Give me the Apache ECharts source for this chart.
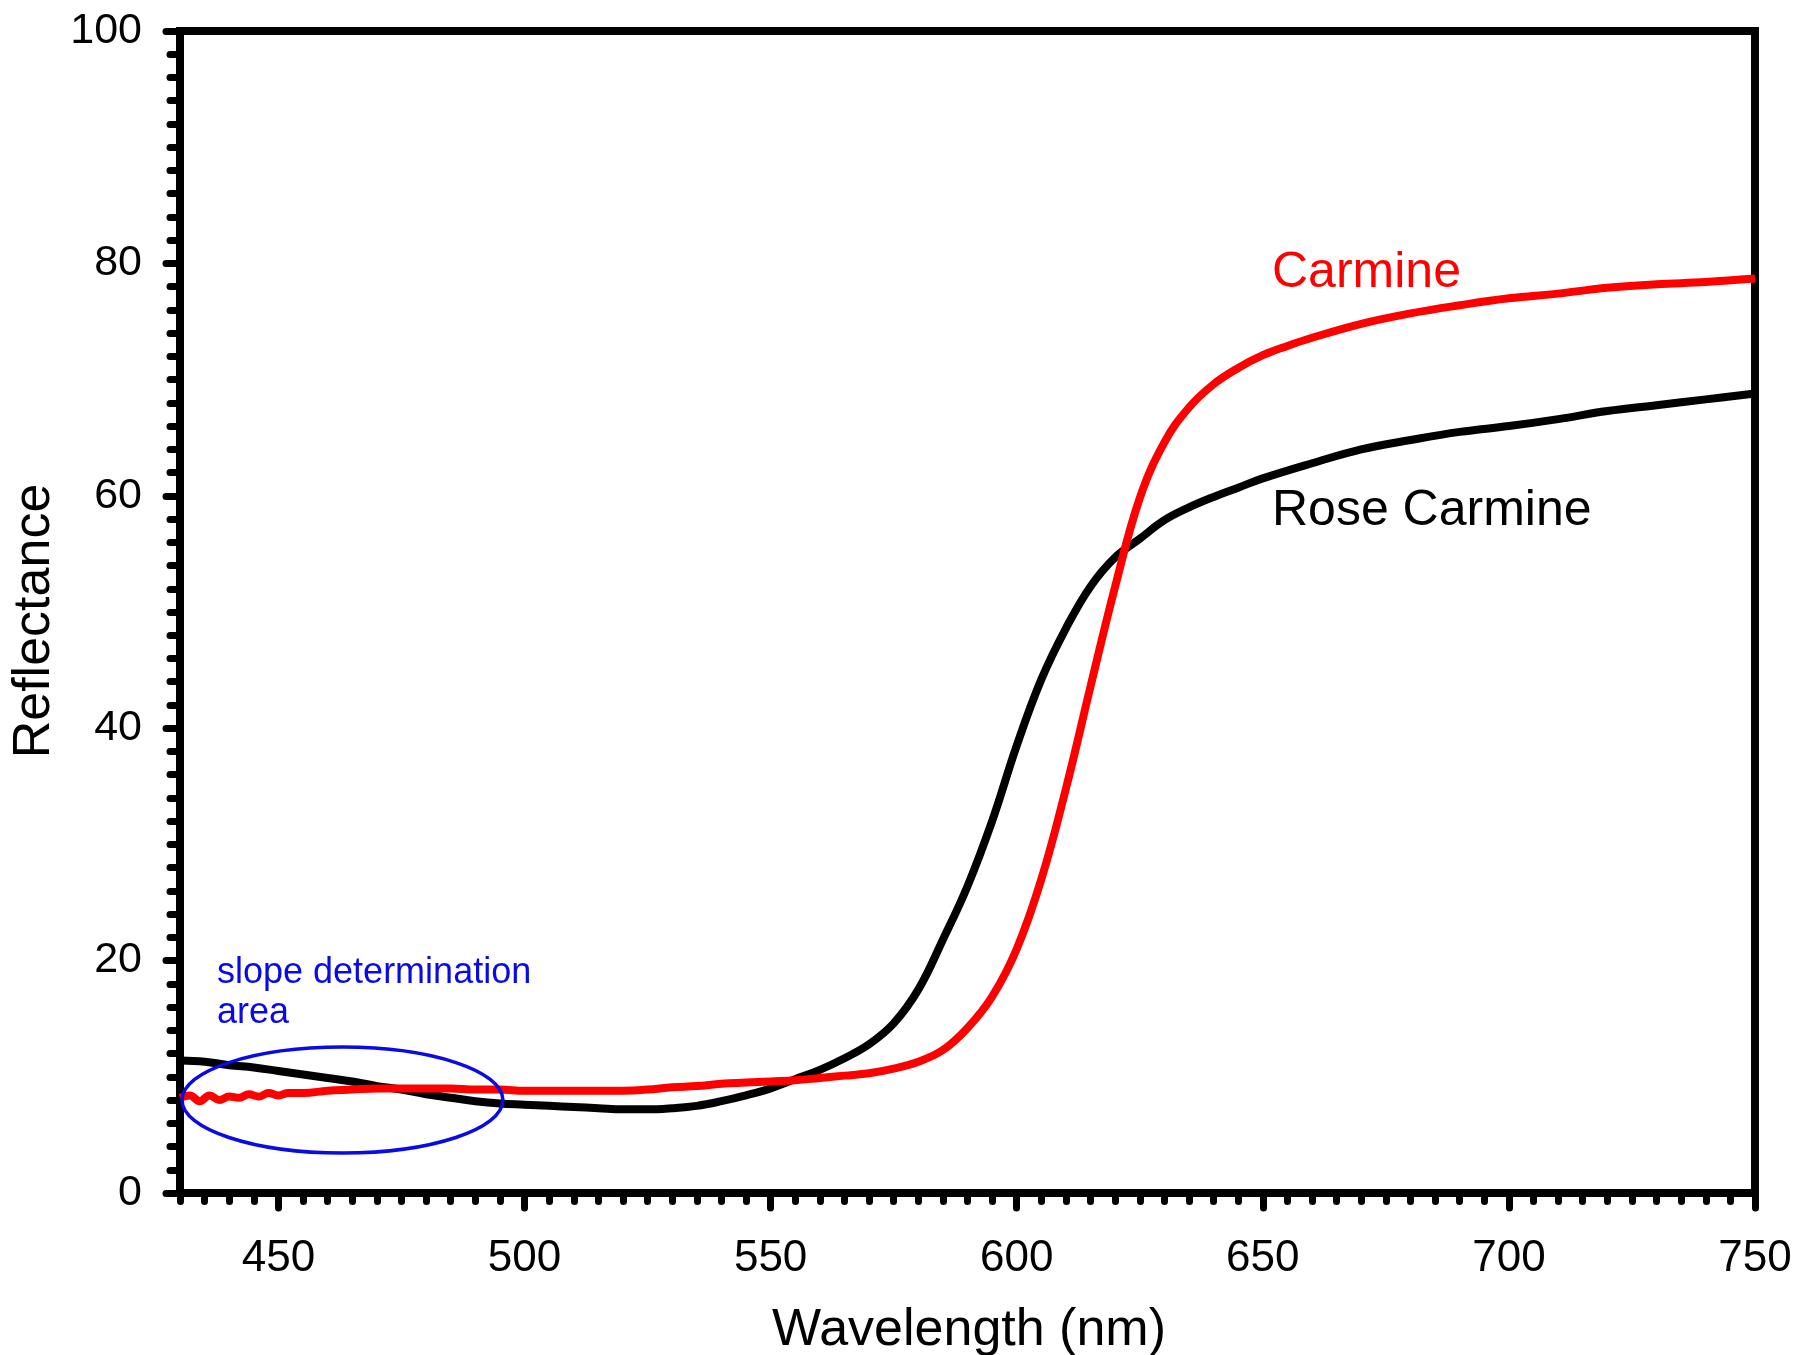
<!DOCTYPE html>
<html>
<head>
<meta charset="utf-8">
<title>Reflectance spectra</title>
<script src="https://cdn.jsdelivr.net/npm/echarts@6/dist/echarts.min.js"></script>
<style>
  html, body { margin: 0; padding: 0; background: #fff; }
  #chart { width: 1796px; height: 1355px; }
</style>
</head>
<body>
<div id="chart"></div>
<script>
// Rose Carmine reflectance spectrum (wavelength in nm, reflectance in %)
const wavelengthRose = [430,435,440,445,450,455,460,465,470,475,480,485,490,495,500,505,510,515,520,525,530,535,540,545,550,555,560,565,570,575,580,585,590,595,600,605,610,615,620,625,630,635,640,645,650,660,670,680,690,700,710,720,730,740,750];
const reflectanceRose = [11.4,11.3,11.0,10.8,10.5,10.2,9.9,9.6,9.2,8.9,8.5,8.2,7.9,7.7,7.6,7.5,7.4,7.3,7.2,7.2,7.3,7.5,7.9,8.4,9.0,9.8,10.6,11.6,12.8,14.6,17.5,21.8,26.4,32.0,38.5,44.2,48.6,52.2,54.7,56.3,57.9,59.0,59.9,60.7,61.5,62.8,64.0,64.8,65.5,66.0,66.6,67.3,67.8,68.3,68.8];

// Carmine reflectance spectrum
const wavelengthCarmine = [430,432,434,436,438,440,442,444,446,448,450,452,455,460,465,470,475,480,485,490,495,500,505,510,515,520,525,530,535,540,545,550,555,560,565,570,575,580,585,590,595,600,605,610,615,620,625,630,635,640,645,650,655,660,670,680,690,700,710,720,730,740,750];
const reflectanceCarmine = [8.2,8.4,7.9,8.4,8.0,8.3,8.2,8.5,8.3,8.6,8.4,8.6,8.6,8.8,8.9,9.0,9.0,9.0,9.0,8.9,8.9,8.8,8.8,8.8,8.8,8.8,8.9,9.1,9.2,9.4,9.5,9.6,9.7,9.9,10.1,10.3,10.7,11.3,12.3,14.2,16.9,21.0,27.0,34.8,43.6,52.2,59.8,64.6,67.6,69.6,71.0,72.1,72.9,73.6,74.8,75.7,76.4,77.0,77.4,77.9,78.2,78.4,78.7];

// Axis tick labels
const xMajorTicks = [450, 500, 550, 600, 650, 700, 750];
const yTickInterval = 20;

// Slope determination region: centre (nm, %), half-width (nm), half-height (%)
const slopeRegion = [463, 8.0, 32.6, 4.56];

const FONT = '"Liberation Sans", Arial, Helvetica, sans-serif';

const chart = echarts.init(document.getElementById('chart'), null, { renderer: 'canvas' });

const pairs = (xs, ys) => xs.map((x, i) => [x, ys[i]]);

const tickStyle = { color: '#000', width: 7, cap: 'round' };

chart.setOption({
  backgroundColor: '#fff',
  animation: false,
  grid: {
    left: 180, right: 41, top: 31, bottom: 162,
    show: true, borderColor: '#000', borderWidth: 8, backgroundColor: 'transparent'
  },
  xAxis: [
    {
      type: 'value', min: 430, max: 750, position: 'bottom',
      axisLine: { show: false },
      splitLine: { show: false },
      axisTick: { show: true, inside: false, length: 15, customValues: xMajorTicks, lineStyle: tickStyle },
      axisLabel: {
        show: true, customValues: xMajorTicks, margin: 44,
        fontSize: 44, color: '#000', fontFamily: FONT
      }
    },
    {
      type: 'value', min: 430, max: 750, interval: 5, position: 'bottom', gridIndex: 0,
      axisLine: { show: false },
      splitLine: { show: false },
      axisTick: { show: true, inside: false, length: 8.5, lineStyle: tickStyle },
      axisLabel: { show: false }
    }
  ],
  yAxis: {
    type: 'value', min: 0, max: 100, interval: yTickInterval,
    axisLine: { show: false },
    splitLine: { show: false },
    axisTick: { show: true, inside: false, length: 14, lineStyle: tickStyle },
    minorTick: { show: true, splitNumber: 10, length: 10, lineStyle: tickStyle },
    axisLabel: { margin: 38, fontSize: 43, color: '#000', fontFamily: FONT }
  },
  series: [
    {
      name: 'Rose Carmine', type: 'line', xAxisIndex: 0,
      data: pairs(wavelengthRose, reflectanceRose),
      showSymbol: false, smooth: 0.4,
      lineStyle: { color: '#000', width: 8 }, z: 3
    },
    {
      name: 'Carmine', type: 'line', xAxisIndex: 0,
      data: pairs(wavelengthCarmine, reflectanceCarmine),
      showSymbol: false, smooth: 0.4,
      lineStyle: { color: '#ff0000', width: 8 }, z: 4
    },
    {
      name: 'slope region', type: 'custom', xAxisIndex: 0, silent: true, z: 5,
      data: [slopeRegion],
      renderItem: function (params, api) {
        const c = api.coord([api.value(0), api.value(1)]);
        const s = api.size([api.value(2), api.value(3)]);
        return {
          type: 'ellipse',
          shape: { cx: c[0], cy: c[1], rx: s[0], ry: s[1] },
          style: { fill: 'none', stroke: '#0a0ae6', lineWidth: 3.5 }
        };
      }
    }
  ],
  graphic: [
    {
      type: 'text', x: 969, y: 1305,
      style: { text: 'Wavelength (nm)', font: '52px ' + FONT, fill: '#000', align: 'center', verticalAlign: 'top' }
    },
    {
      type: 'text', x: 35, y: 621, rotation: Math.PI / 2,
      style: { text: 'Reflectance', font: '52px ' + FONT, fill: '#000', align: 'center', verticalAlign: 'middle' }
    },
    {
      type: 'text', x: 1272, y: 248,
      style: { text: 'Carmine', font: '50px ' + FONT, fill: '#ff0000', align: 'left', verticalAlign: 'top' }
    },
    {
      type: 'text', x: 1272, y: 486,
      style: { text: 'Rose Carmine', font: '50px ' + FONT, fill: '#000', align: 'left', verticalAlign: 'top' }
    },
    {
      type: 'text', x: 217, y: 953,
      style: { text: 'slope determination\narea', font: '36px ' + FONT, lineHeight: 40, fill: '#0a0ae6', align: 'left', verticalAlign: 'top' }
    }
  ]
});
</script>
</body>
</html>
